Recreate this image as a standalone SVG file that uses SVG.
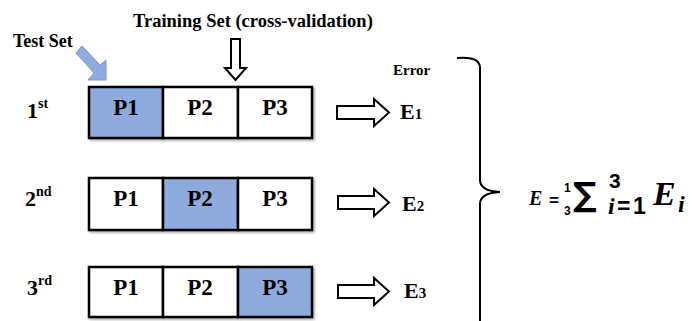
<svg xmlns="http://www.w3.org/2000/svg" width="692" height="321" viewBox="0 0 692 321">
<defs>
<filter id="sh" x="-5%" y="-10%" width="115%" height="130%"><feDropShadow dx="1.5" dy="1.5" stdDeviation="1" flood-color="#000" flood-opacity="0.35"/></filter>
</defs>
<style>
.t{font-family:"Liberation Serif","Times New Roman",serif;font-weight:bold;fill:#000}
.cell{stroke:#000;stroke-width:2.5;fill:#fff}
.blue{fill:#8faadc}
.p{font-size:23px;text-anchor:middle}
.arr{fill:#fff;stroke:#000;stroke-width:2;stroke-linejoin:miter}
.m{font-family:"Liberation Serif","Times New Roman",serif;font-weight:bold;font-style:italic;fill:#000}
.ms{font-family:"Liberation Sans",Arial,sans-serif;font-weight:bold;fill:#000}
.sig{font-family:"DejaVu Sans",sans-serif;font-weight:bold;fill:#000}
</style>
<rect width="692" height="321" fill="#fff"/>
<text class="t" x="133" y="27" font-size="18.5">Training Set (cross-validation)</text>
<text class="t" x="13" y="47" font-size="18">Test Set</text>
<text class="t" x="393" y="75" font-size="15">Error</text>
<g id="connectors">
<path d="M76,53 L82,46 L100,65 L106,60 L106,80 L88,80 L94,73 Z" fill="#8faadc" stroke="#7f9ad0" stroke-width="1"/>
<path class="arr" d="M231,39 H240 V68 H246 L235.5,80 L225,68 H231 Z"/>
<path class="arr" d="M337,106 H374 V99 L389,112.5 L374,126 V119 H337 Z"/>
<path class="arr" d="M338,196 H374 V189 L389,202.5 L374,216 V209 H338 Z"/>
<path class="arr" d="M338,285 H374 V278 L389,291.5 L374,305 V298 H338 Z"/>
<path d="M457,58 Q480,56 480,68 V180 Q480,191 500,192 Q480,193 480,204 V321" fill="none" stroke="#000" stroke-width="2"/>
</g>
<g id="row1">
<text class="t" x="27" y="118" font-size="22">1<tspan font-size="14" dy="-10">st</tspan></text>
<g filter="url(#sh)">
<rect class="cell blue" x="89" y="87" width="74" height="51"/>
<rect class="cell" x="163" y="87" width="75" height="51"/>
<rect class="cell" x="238" y="87" width="74" height="51"/>
</g>
<text class="t p" x="126" y="115">P1</text>
<text class="t p" x="200" y="115">P2</text>
<text class="t p" x="275" y="115">P3</text>
</g>
<g id="row2">
<text class="t" x="25" y="206" font-size="22">2<tspan font-size="14" dy="-10">nd</tspan></text>
<g filter="url(#sh)">
<rect class="cell" x="89" y="178" width="74" height="52"/>
<rect class="cell blue" x="163" y="178" width="75" height="52"/>
<rect class="cell" x="238" y="178" width="74" height="52"/>
</g>
<text class="t p" x="126" y="206">P1</text>
<text class="t p" x="200" y="206">P2</text>
<text class="t p" x="275" y="206">P3</text>
</g>
<g id="row3">
<text class="t" x="27" y="295" font-size="22">3<tspan font-size="14" dy="-10">rd</tspan></text>
<g filter="url(#sh)">
<rect class="cell" x="89" y="267" width="74" height="50"/>
<rect class="cell" x="163" y="267" width="75" height="50"/>
<rect class="cell blue" x="238" y="267" width="74" height="50"/>
</g>
<text class="t p" x="126" y="295">P1</text>
<text class="t p" x="200" y="295">P2</text>
<text class="t p" x="275" y="295">P3</text>
</g>
<g id="errors">
<text class="t" x="400" y="119" font-size="22">E<tspan font-size="15">1</tspan></text>
<text class="t" x="402" y="211" font-size="22">E<tspan font-size="15">2</tspan></text>
<text class="t" x="404" y="298" font-size="22">E<tspan font-size="15">3</tspan></text>
</g>
<g id="formula">
<text class="m" x="529" y="205" font-size="20">E</text>
<text class="ms" x="549" y="206" font-size="17">=</text>
<text class="ms" x="564" y="192" font-size="12">1</text>
<text class="ms" x="564" y="215" font-size="12">3</text>
<text class="sig" x="573" y="206" font-size="33">∑</text>
<text class="ms" x="609" y="188" font-size="21">3</text>
<text class="m" x="608" y="214" font-size="24">i</text>
<text class="ms" x="617" y="214" font-size="23">=</text>
<text class="ms" x="633" y="214" font-size="23">1</text>
<text class="m" x="653" y="205" font-size="34">E</text>
<text class="m" x="678" y="212" font-size="24">i</text>
</g>
</svg>
